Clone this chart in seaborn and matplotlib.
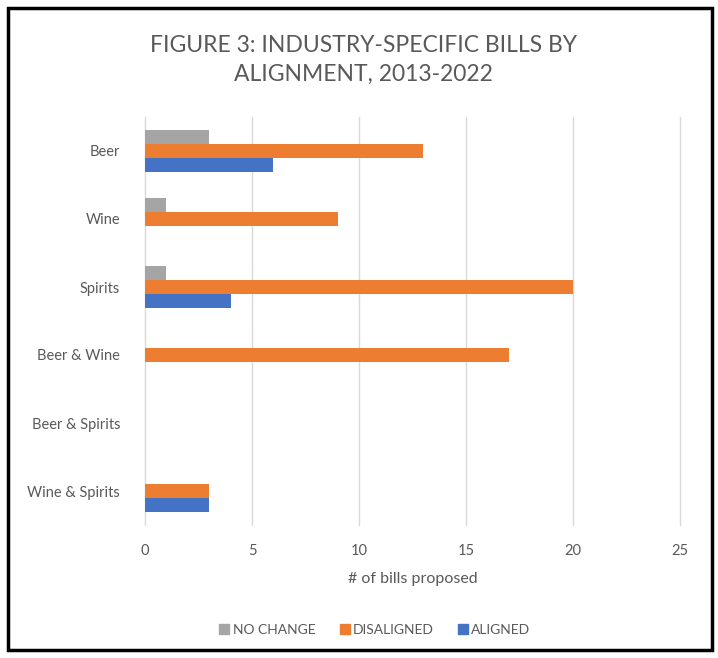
import matplotlib
matplotlib.use("Agg")
import matplotlib.pyplot as plt
from matplotlib.patches import Rectangle
from matplotlib.lines import Line2D
import seaborn as sns
import pandas as pd

categories = ["Beer", "Wine", "Spirits", "Beer & Wine", "Beer & Spirits", "Wine & Spirits"]
series = ["NO CHANGE", "DISALIGNED", "ALIGNED"]
no_change = [3, 1, 1, 0, 0, 0]
disaligned = [13, 9, 20, 17, 0, 3]
aligned = [6, 0, 4, 0, 0, 3]
x_ticks = [0, 5, 10, 15, 20, 25]
colors = ["#A5A5A5", "#ED7D31", "#4472C4"]

rows = []
for name, vals in zip(series, [no_change, disaligned, aligned]):
    for c, v in zip(categories, vals):
        rows.append({"category": c, "series": name, "value": v})
df = pd.DataFrame(rows)

sns.set_style("white")
plt.rcParams["font.family"] = ["Lato", "DejaVu Sans"]

W, H = 718, 658
fig = plt.figure(figsize=(W / 100, H / 100), dpi=100)
ax = fig.add_axes([145 / W, 1 - 525 / H, (680 - 145) / W, (525 - 117) / H])

sns.barplot(data=df, y="category", x="value", hue="series", order=categories,
            hue_order=series, palette=colors, orient="h", width=0.62,
            saturation=1, ax=ax, legend=False, errorbar=None, linewidth=0)

ax.set_xlim(0, 25)
ax.set_ylim(5.5, -0.5)
ax.set_xticks(x_ticks)
ax.set_xticklabels([str(t) for t in x_ticks])
ax.xaxis.grid(True, color="#D9D9D9", linewidth=1)
for gl in ax.get_xgridlines():
    gl.set_clip_on(False)
ax.set_axisbelow(True)
for s in ax.spines.values():
    s.set_visible(False)
ax.tick_params(axis="both", length=0, labelsize=10.5, colors="#595959")
ax.tick_params(axis="x", pad=14)
ax.tick_params(axis="y", pad=18)
ax.set_ylabel("")
ax.set_xlabel("# of bills proposed", fontsize=11.5, color="#595959", labelpad=10)

fig.text(363 / W, 1 - 60 / H, "FIGURE 3: INDUSTRY-SPECIFIC BILLS BY\nALIGNMENT, 2013-2022",
         ha="center", va="center", fontsize=16.5, color="#595959", linespacing=1.45)

handles = [Line2D([0], [0], marker="s", linestyle="", markersize=7,
                  markerfacecolor=c, markeredgecolor=c) for c in colors]
fig.legend(handles, series, loc="center", bbox_to_anchor=(374 / W, 1 - 630 / H),
           ncol=3, frameon=False, fontsize=10, labelcolor="#595959",
           handletextpad=0.1, columnspacing=1.6, handlelength=1.0)

fig.patches.append(Rectangle((8 / W, 8 / H), (712 - 8) / W, (650 - 8) / H,
                             transform=fig.transFigure, fill=False,
                             edgecolor="black", linewidth=2.5))

fig.savefig("out.png", dpi=100, facecolor="white")
